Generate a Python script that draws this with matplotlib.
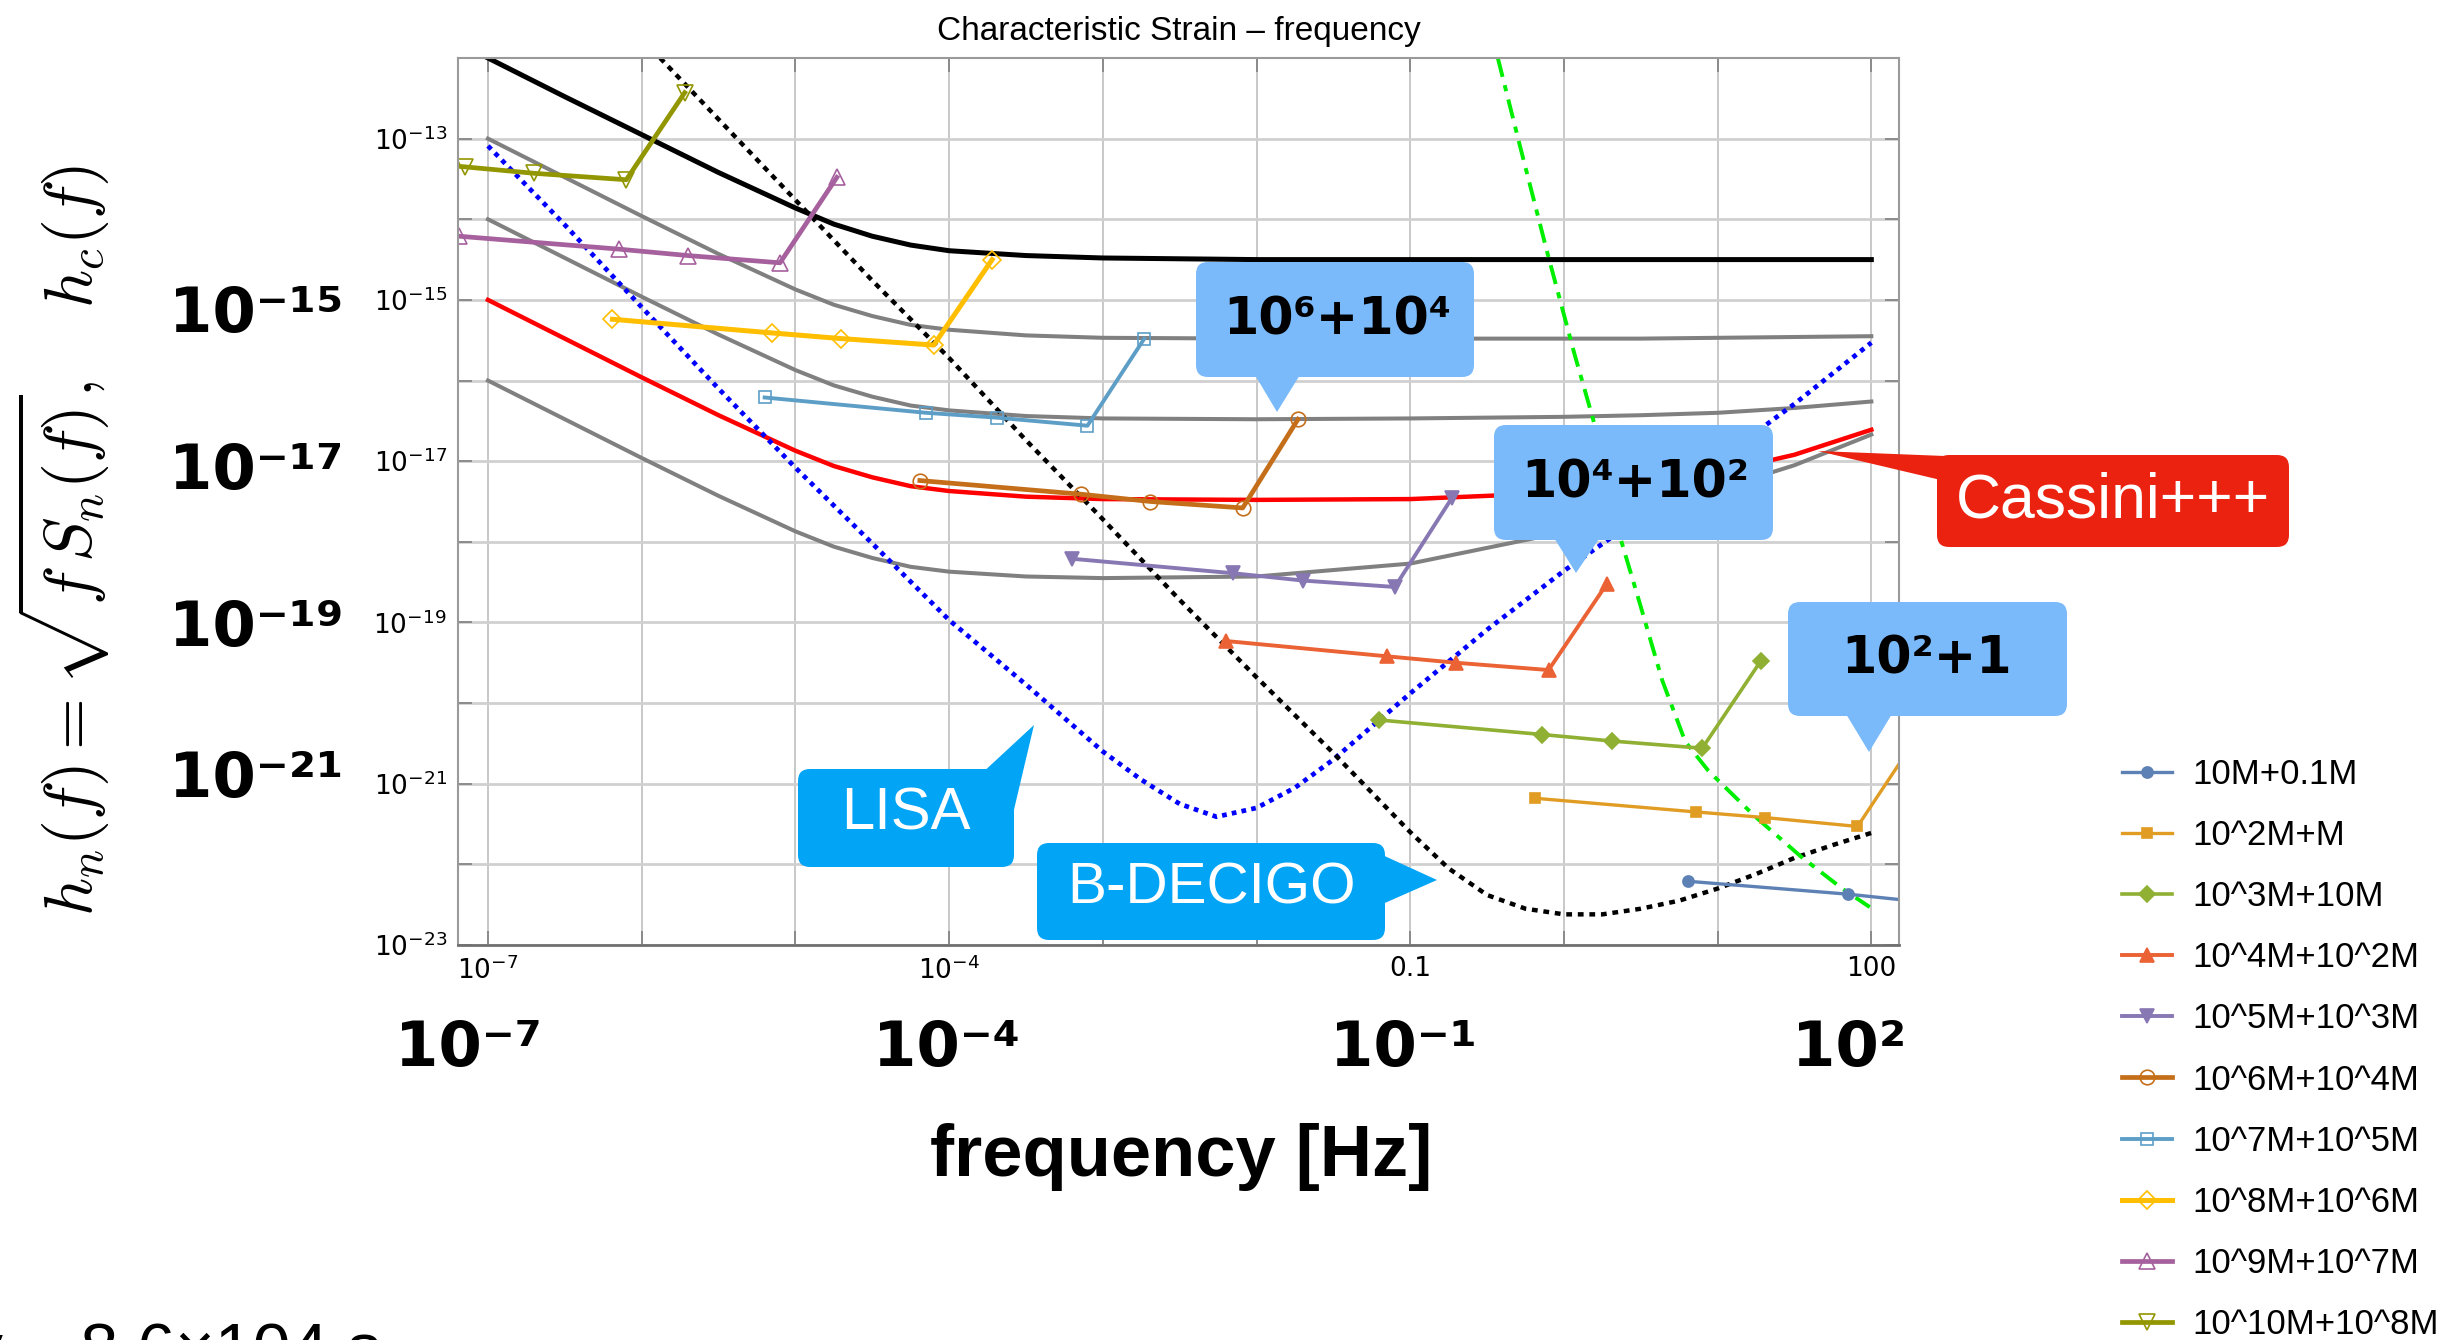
import matplotlib
matplotlib.use("Agg")
import matplotlib.pyplot as plt
import numpy as np
from matplotlib.patches import FancyBboxPatch, Polygon

W, H, DPI = 2459, 1340, 100

# detector / pulsar-timing style curves, log10(f) and log10(h)
curve_f = [-7, -6.5, -6, -5.5, -5, -4.75, -4.5, -4.25, -4, -3.5, -3, -2, -1, 0, 0.5, 1, 1.5, 2]
black_h = [-12.0, -12.48, -12.95, -13.42, -13.86, -14.06, -14.21, -14.32, -14.39, -14.45, -14.48,
           -14.50, -14.50, -14.50, -14.50, -14.50, -14.50, -14.50]
gray1_h = [-13.0, -13.48, -13.96, -14.43, -14.87, -15.06, -15.20, -15.31, -15.37, -15.44, -15.47,
           -15.48, -15.48, -15.48, -15.48, -15.47, -15.46, -15.45]
gray2_h = [-14.0, -14.48, -14.96, -15.43, -15.87, -16.06, -16.20, -16.31, -16.37, -16.44, -16.47,
           -16.48, -16.47, -16.45, -16.43, -16.40, -16.34, -16.26]
red_h = [-15.0, -15.48, -15.96, -16.43, -16.87, -17.06, -17.20, -17.31, -17.37, -17.44, -17.47,
         -17.48, -17.47, -17.39, -17.30, -17.14, -16.92, -16.61]
gray3_h = [-16.0, -16.48, -16.96, -17.43, -17.87, -18.06, -18.20, -18.31, -18.37, -18.43, -18.45,
           -18.43, -18.27, -17.88, -17.62, -17.35, -17.05, -16.67]

lisa_f = [-7.0, -6.5, -6.0, -5.5, -5.0, -4.5, -4.0, -3.5, -3.0, -2.75, -2.5, -2.26, -2.0, -1.75,
          -1.5, -1.0, -0.5, 0.0, 0.5, 1.0, 1.5, 2.0]
lisa_h = [-13.09, -14.07, -15.09, -16.10, -17.08, -18.02, -18.97, -19.77, -20.60, -20.95, -21.25,
          -21.41, -21.30, -21.05, -20.70, -19.88, -19.09, -18.36, -17.69, -16.99, -16.29, -15.53]

bdecigo_f = [-5.88, -5.5, -5.0, -4.5, -4.0, -3.5, -3.0, -2.5, -2.0, -1.5, -1.0, -0.75, -0.5, -0.25,
             0.0, 0.25, 0.5, 0.75, 1.0, 1.25, 1.5, 1.75, 2.0]
bdecigo_h = [-12.0, -12.76, -13.76, -14.76, -15.72, -16.74, -17.72, -18.72, -19.68, -20.62, -21.60,
             -22.05, -22.38, -22.55, -22.62, -22.62, -22.55, -22.45, -22.30, -22.12, -21.92, -21.76,
             -21.61]

green_f = [-0.43, -0.29, -0.11, 0.07, 0.19, 0.37, 0.49, 0.64, 0.79, 0.94, 1.24, 1.54, 1.81, 1.99]
green_h = [-12.0, -13.06, -14.40, -15.68, -16.48, -17.97, -18.74, -19.72, -20.48, -20.84, -21.40,
           -21.90, -22.30, -22.53]

# binaries, log10(f) and log10(h)
binary_labels = ["10M+0.1M", "10^2M+M", "10^3M+10M", "10^4M+10^2M", "10^5M+10^3M",
                 "10^6M+10^4M", "10^7M+10^5M", "10^8M+10^6M", "10^9M+10^7M", "10^10M+10^8M"]
binary_f = [
    [0.81, 1.85, 2.30, 2.90, 3.28],
    [-0.19, 0.86, 1.31, 1.91, 2.28],
    [-1.20, -0.14, 0.31, 0.90, 1.28],
    [-2.20, -1.15, -0.70, -0.10, 0.28],
    [-3.20, -2.15, -1.70, -1.10, -0.73],
    [-4.19, -3.14, -2.69, -2.09, -1.73],
    [-5.20, -4.15, -3.69, -3.10, -2.73],
    [-6.19, -5.15, -4.70, -4.10, -3.72],
    [-7.19, -6.15, -5.70, -5.10, -4.73],
    [-8.19, -7.15, -6.70, -6.10, -5.72],
]
binary_h = [
    [-22.21, -22.37, -22.46, -22.57, -21.50],
    [-21.18, -21.35, -21.42, -21.53, -20.47],
    [-20.21, -20.39, -20.47, -20.56, -19.48],
    [-19.23, -19.42, -19.50, -19.59, -18.52],
    [-18.21, -18.39, -18.48, -18.56, -17.46],
    [-17.24, -17.41, -17.50, -17.58, -16.48],
    [-16.21, -16.40, -16.46, -16.56, -15.48],
    [-15.24, -15.41, -15.48, -15.56, -14.50],
    [-14.21, -14.37, -14.45, -14.54, -13.48],
    [-13.17, -13.35, -13.43, -13.51, -12.43],
]

x_tick_exp = list(range(-7, 3))
x_tick_text = [r"$10^{-7}$", "", "", r"$10^{-4}$", "", "", "0.1", "", "", "100"]
y_tick_exp = list(range(-23, -12))
y_tick_text = [r"$10^{-23}$", "", r"$10^{-21}$", "", r"$10^{-19}$", "", r"$10^{-17}$", "",
               r"$10^{-15}$", "", r"$10^{-13}$"]

big_y_text = ["10⁻¹⁵", "10⁻¹⁷", "10⁻¹⁹", "10⁻²¹"]
big_x_text = ["10⁻⁷", "10⁻⁴", "10⁻¹", "10²"]

colors = ["#5E81B5", "#E19C24", "#8FB032", "#EB6235", "#8778B3",
          "#C56E1A", "#5D9EC7", "#FFBF00", "#A5609D", "#929600"]
markers = ["o", "s", "D", "^", "v", "o", "s", "D", "^", "v"]
msizes = [8, 7, 8.5, 10, 9.5, 10.5, 8, 9.5, 11, 11]
lws = [2.4, 2.4, 2.6, 2.8, 2.8, 3.4, 2.8, 3.6, 3.4, 3.4]

fig = plt.figure(figsize=(W / DPI, H / DPI), dpi=DPI)
ax = fig.add_axes([458 / W, 1 - 945 / H, 1441 / W, 887 / H])
tr = fig.dpi_scale_trans


def P(px, py):
    return px / DPI, (H - py) / DPI


def e(v):
    return 10.0 ** np.asarray(v)


ax.set_xscale("log")
ax.set_yscale("log")
ax.set_xlim(10 ** -7.195, 10 ** 2.18)
ax.set_ylim(1e-23, 10 ** -12.0)
ax.set_axisbelow(True)
ax.xaxis.grid(True, color="#c8c8c8", lw=1.4)
ax.yaxis.grid(True, color="#d0d0d0", lw=2.0)

ax.plot(e(curve_f), e(black_h), color="black", lw=3.6)
for hh in (gray1_h, gray2_h, gray3_h):
    ax.plot(e(curve_f), e(hh), color="#808080", lw=2.9)
ax.plot(e(curve_f), e(red_h), color="#ff0000", lw=3.2)
ax.plot(e(lisa_f), e(lisa_h), color="#0000ff", lw=3.4, ls=(0, (1.0, 1.1)))
ax.plot(e(bdecigo_f), e(bdecigo_h), color="black", lw=3.2, ls=(0, (1.3, 1.3)))
ax.plot(e(green_f), e(green_h), color="#00ee00", lw=2.8, ls=(0, (5, 2.2, 1.6, 2.2)))

handles = []
for i in range(10):
    filled = i < 5
    ln, = ax.plot(e(binary_f[i]), e(binary_h[i]), color=colors[i], lw=lws[i],
                  marker=markers[i], ms=msizes[i],
                  mfc=colors[i] if filled else "none", mec=colors[i], mew=1.2,
                  label=binary_labels[i])
    handles.append(ln)

ax.set_xticks(e(x_tick_exp))
ax.set_xticklabels(x_tick_text)
ax.set_yticks(e(y_tick_exp))
ax.set_yticklabels(y_tick_text)
ax.xaxis.set_minor_locator(matplotlib.ticker.NullLocator())
ax.yaxis.set_minor_locator(matplotlib.ticker.NullLocator())
ax.tick_params(which="major", direction="in", length=10, width=1.2, color="#808080",
               labelsize=19, top=True, right=True, pad=8)
for side in ["top", "right", "left"]:
    ax.spines[side].set_color("#9a9a9a")
    ax.spines[side].set_linewidth(1.5)
ax.spines["bottom"].set_color("#707070")
ax.spines["bottom"].set_linewidth(2.0)

ax.set_title("Characteristic Strain – frequency", fontsize=24, family="Liberation Sans", pad=13)

# slide overlays
fig.text(*P(63, 540), r"$h_n(f) = \sqrt{f\,S_n(f)},\quad h_c(f)$", rotation=90,
         ha="center", va="center", fontsize=48, math_fontfamily="cm", transform=tr)
for txt, yb in zip(big_y_text, [332, 489, 646, 797]):
    fig.text(*P(169, yb), txt, fontsize=45, fontweight="bold", ha="left", va="baseline",
             transform=tr)
for txt, xl in zip(big_x_text, [395, 873, 1330, 1792]):
    fig.text(*P(xl, 1066), txt, fontsize=45, fontweight="bold", ha="left", va="baseline",
             transform=tr)
fig.text(*P(1181, 1176), "frequency [Hz]", fontsize=52, fontweight="bold",
         family="Liberation Sans", ha="center", va="baseline", transform=tr)
fig.text(*P(-31, 1372), "v ~ 8.6×104 s", fontsize=49, family="Liberation Sans",
         ha="left", va="baseline", transform=tr)


def callout(box, wedge, color):
    x0, y0, x1, y1 = box
    fig.add_artist(FancyBboxPatch(P(x0, y1), (x1 - x0) / DPI, (y1 - y0) / DPI,
                                  boxstyle="round,pad=0,rounding_size=0.12",
                                  fc=color, ec="none", transform=tr, zorder=5))
    fig.add_artist(Polygon([P(*pt) for pt in wedge], closed=True, fc=color, ec="none",
                           transform=tr, zorder=5))


light_blue = "#7ABAFA"
bright_blue = "#02A4F6"
cassini_red = "#EC2211"
callout((1196, 262, 1474, 377), [(1252, 370), (1277, 412), (1303, 370)], light_blue)
callout((1494, 425, 1773, 540), [(1551, 533), (1576, 573), (1603, 533)], light_blue)
callout((1788, 602, 2067, 716), [(1843, 709), (1869, 752), (1895, 709)], light_blue)
callout((1937, 455, 2289, 547), [(1818, 451), (1945, 456), (1945, 481)], cassini_red)
callout((798, 769, 1014, 867), [(980, 775), (1034, 725), (1008, 835)], bright_blue)
callout((1037, 843, 1385, 940), [(1378, 853), (1437, 880), (1378, 906)], bright_blue)

for txt, (cx, yb) in zip(["10⁶+10⁴", "10⁴+10²", "10²+1"], [(1337, 335), (1635, 497), (1927, 673)]):
    fig.text(*P(cx, yb), txt, fontsize=36.5, fontweight="bold", ha="center", va="baseline",
             transform=tr, zorder=6)
fig.text(*P(2113, 517), "Cassini+++", fontsize=45, color="white", family="Liberation Sans",
         ha="center", va="baseline", transform=tr, zorder=6)
fig.text(*P(906, 830), "LISA", fontsize=43, color="white", family="Liberation Sans",
         ha="center", va="baseline", transform=tr, zorder=6)
fig.text(*P(1211, 904), "B-DECIGO", fontsize=42, color="white", family="Liberation Sans",
         ha="center", va="baseline", transform=tr, zorder=6)

fig.legend(handles=handles, labels=binary_labels, loc="upper left",
           bbox_to_anchor=P(2122, 758), bbox_transform=tr, frameon=False, numpoints=1,
           prop={"family": "Liberation Sans", "size": 25}, handlelength=1.44,
           handletextpad=0.58, labelspacing=0.81, borderpad=0, borderaxespad=0)

fig.savefig("out.png", dpi=DPI)
